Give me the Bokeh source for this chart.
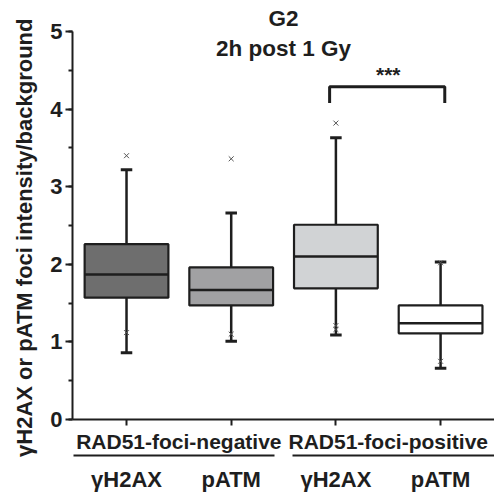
import math
from bokeh.plotting import figure
from bokeh.models import Range1d, FixedTicker, SingleIntervalTicker, LinearAxis, Title
from bokeh.core.properties import value
from bokeh.embed import file_html
from bokeh.resources import INLINE

# ---- data ----
groups = ["RAD51-foci-negative", "RAD51-foci-positive"]
markers = ["γH2AX", "pATM", "γH2AX", "pATM"]
q1 = [1.57, 1.47, 1.69, 1.11]
medians = [1.87, 1.67, 2.10, 1.24]
q3 = [2.26, 1.96, 2.51, 1.47]
whisker_low = [0.86, 1.01, 1.09, 0.66]
whisker_high = [3.22, 2.66, 3.63, 2.03]
outlier_box = [0, 0, 1, 1, 2, 2, 2, 3, 3]
outlier_vals = [3.40, 1.12, 3.36, 1.10, 3.82, 1.21, 1.16, 2.02, 0.75]
fills = ["#6e6e6e", "#a1a1a3", "#d1d3d5", "#ffffff"]
title_lines = ["G2", "2h post 1 Gy"]
y_label = "γH2AX or pATM foci intensity/background"
significance = "***"

FONT = "Liberation Sans"
INK = "#1e1e1e"

xs = list(range(1, len(markers) + 1))
BOX_W = 0.8
CAP_W = 0.11
X0, X1 = 0.484, 4.515

p = figure(width=494, height=495, output_backend="svg", toolbar_location=None,
           x_range=Range1d(X0, X1), y_range=Range1d(0, 5.4),
           min_border_left=72, min_border_right=0, min_border_top=0,
           min_border_bottom=76)
p.outline_line_color = None
p.grid.visible = False

# whiskers
p.segment(x0=xs, y0=q3, x1=xs, y1=whisker_high, line_color=INK, line_width=2.5)
p.segment(x0=xs, y0=q1, x1=xs, y1=whisker_low, line_color=INK, line_width=2.5)
# caps
p.segment(x0=[x - CAP_W / 2 for x in xs], y0=whisker_high,
          x1=[x + CAP_W / 2 for x in xs], y1=whisker_high, line_color=INK, line_width=3)
p.segment(x0=[x - CAP_W / 2 for x in xs], y0=whisker_low,
          x1=[x + CAP_W / 2 for x in xs], y1=whisker_low, line_color=INK, line_width=3)
# boxes
p.vbar(x=xs, width=BOX_W, bottom=q1, top=q3, fill_color=fills,
       line_color=INK, line_width=2.2)
# medians
p.segment(x0=[x - BOX_W / 2 for x in xs], y0=medians,
          x1=[x + BOX_W / 2 for x in xs], y1=medians, line_color=INK, line_width=2.5)
# outliers
p.scatter(x=[xs[i] for i in outlier_box], y=outlier_vals, marker="x", size=7,
          line_color="#555555", line_width=1)

# significance bracket between positive-group boxes
b0, b1 = xs[2] - 0.06, xs[3] + 0.04
by_top, by_bot = 4.29, 4.08
p.line(x=[b0, b0, b1, b1], y=[by_bot, by_top, by_top, by_bot], line_color=INK,
       line_width=3)
p.text(x=[(xs[2] + xs[3]) / 2], y=[4.44], text=[significance], text_align="center",
       text_baseline="middle", text_font=value(FONT), text_font_style="bold",
       text_font_size="21px", text_color=INK)

# title (two lines)
p.text(x=[2.5, 2.5], y=[5.168, 4.78], text=title_lines, text_align="center",
       text_baseline="middle", text_font=value(FONT), text_font_style="bold",
       text_font_size="22.5px", text_color=INK)

# y axis
ya = p.yaxis[0]
ya.ticker = SingleIntervalTicker(interval=1, num_minor_ticks=2)
ya.bounds = (0, 5)
ya.axis_line_width = 2
ya.axis_line_color = INK
ya.major_tick_line_color = INK
ya.major_tick_line_width = 2
ya.major_tick_out = 7
ya.major_tick_in = 0
ya.minor_tick_line_color = INK
ya.minor_tick_line_width = 2
ya.minor_tick_out = 4
ya.minor_tick_in = 0
ya.major_label_standoff = 3
ya.major_label_text_font = FONT
ya.major_label_text_font_style = "bold"
ya.major_label_text_font_size = "22px"
ya.major_label_text_color = INK

# y title, anchored at its top end
p.add_layout(Title(text=y_label, align="right", offset=18, standoff=18,
                   vertical_align="top",
                   text_font=FONT, text_font_style="bold", text_font_size="22px",
                   text_color=INK), "left")

# x axis: frame axis with ticks at boxes and group labels
xa = p.xaxis[0]
xa.ticker = FixedTicker(ticks=[(xs[0] + xs[1]) / 2, (xs[2] + xs[3]) / 2], minor_ticks=xs)
xa.major_label_overrides = {(xs[0] + xs[1]) / 2: groups[0], (xs[2] + xs[3]) / 2: groups[1]}
xa.axis_line_width = 2
xa.axis_line_color = INK
xa.major_tick_line_color = None
xa.major_tick_out = 0
xa.major_tick_in = 0
xa.minor_tick_line_color = INK
xa.minor_tick_line_width = 2
xa.minor_tick_out = 6
xa.minor_tick_in = 0
xa.major_label_standoff = 4
xa.major_label_text_font = FONT
xa.major_label_text_font_style = "bold"
xa.major_label_text_font_size = "21px"
xa.major_label_text_color = INK

# second axis: rule under group labels + marker labels
sub_axis = LinearAxis(ticker=FixedTicker(ticks=xs, minor_ticks=[(xs[1] + xs[2]) / 2]),
                      bounds=(0.494, X1),
                      major_label_overrides={x: m for x, m in zip(xs, markers)},
                      axis_line_width=2, axis_line_color=INK,
                      major_tick_line_color=None, major_tick_out=0, major_tick_in=0,
                      minor_tick_line_color="white", minor_tick_line_width=18,
                      minor_tick_out=3, minor_tick_in=3,
                      major_label_standoff=8, major_label_text_font=FONT,
                      major_label_text_font_style="bold",
                      major_label_text_font_size="22px", major_label_text_color=INK)
p.add_layout(sub_axis, "below")

open("out.html", "w").write(file_html(p, INLINE))
